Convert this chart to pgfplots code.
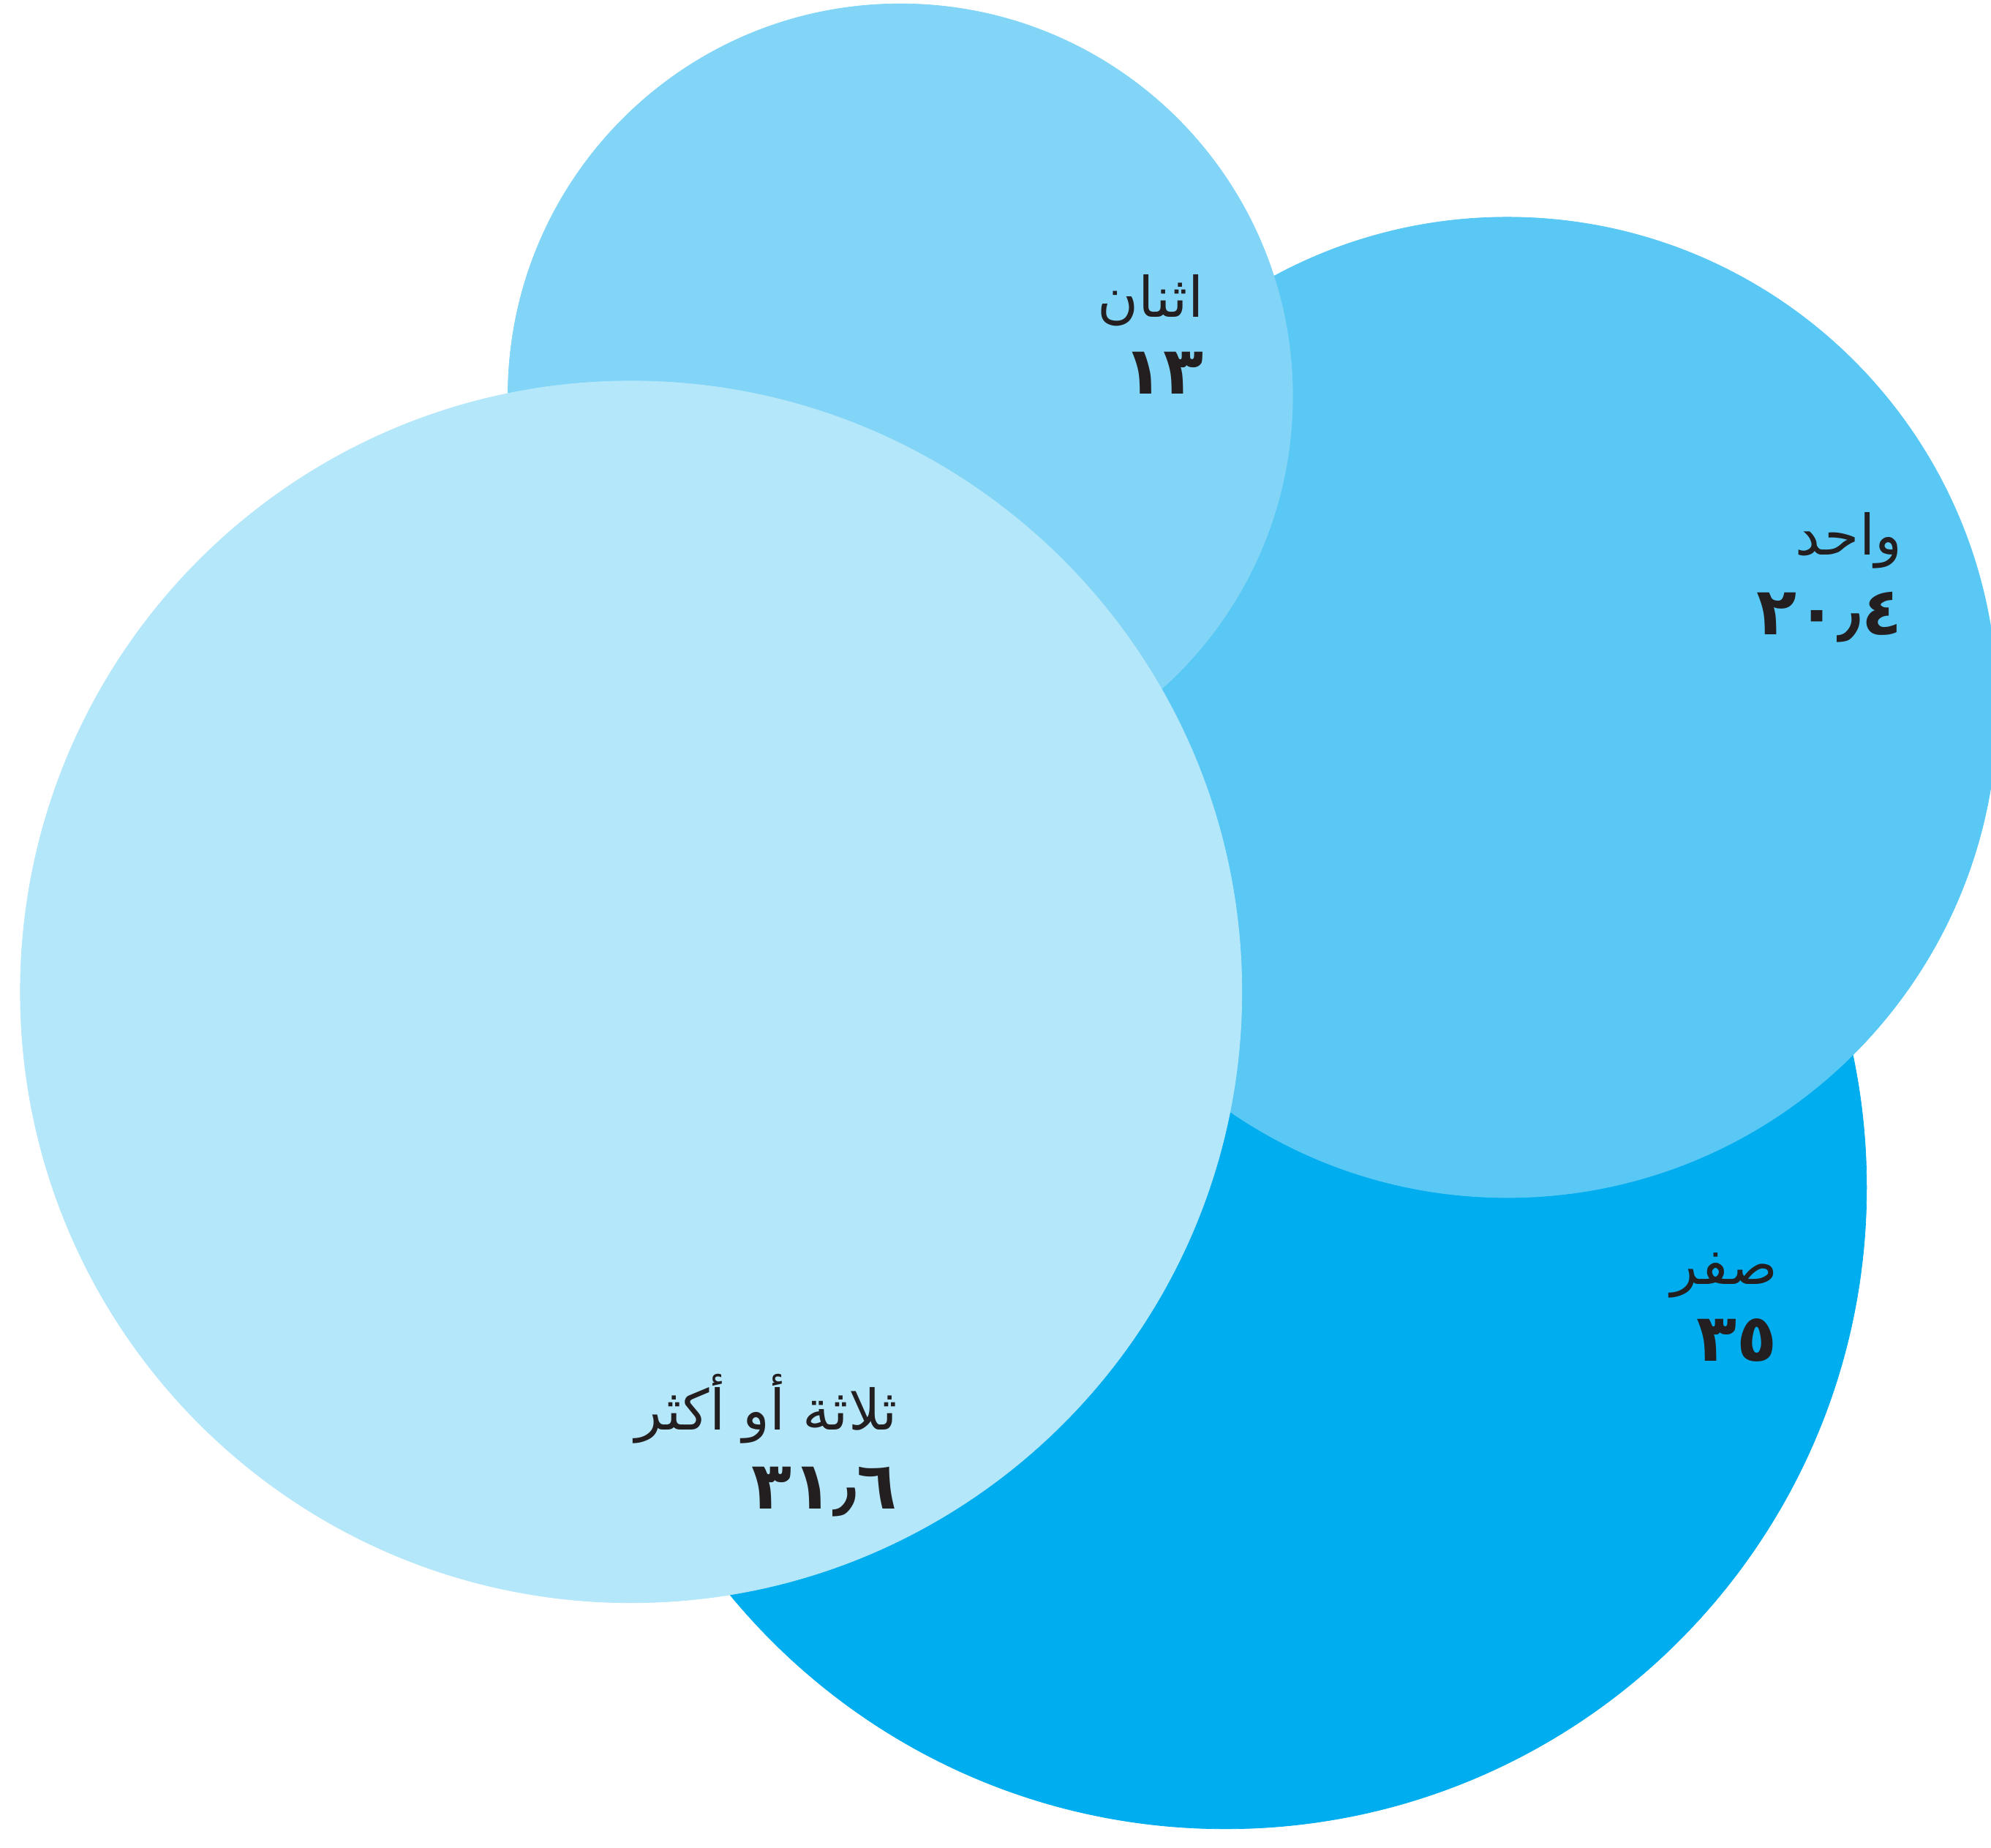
\documentclass[border=0pt]{standalone}
\usepackage{pgfplots}
\pgfplotsset{compat=1.18}
\usepackage{fontspec}
\setmainfont{DejaVu Sans}
\newfontfamily\arabicfont[Script=Arabic]{DejaVu Sans}
\TeXXeTstate=1
\definecolor{czero}{HTML}{00ADEE}
\definecolor{cone}{HTML}{5AC8F5}
\definecolor{ctwo}{HTML}{82D5F7}
\definecolor{cthree}{HTML}{B4E7FA}
\definecolor{txt}{HTML}{231F20}
\begin{document}
\begin{tikzpicture}
\begin{axis}[
  scale only axis, width=1568pt, height=1455pt,
  xmin=0, xmax=1568, ymin=0, ymax=1455,
  axis line style={draw=none}, ticks=none,
  clip=true, clip marker paths=true,
]
% radius proportional to sqrt(value): r = 85.5*sqrt(v)
\addplot[only marks, mark=*, mark size=505, color=czero, mark options={draw=none, fill=czero}] coordinates {(965,520)};
\addplot[only marks, mark=*, mark size=386, color=cone, mark options={draw=none, fill=cone}] coordinates {(1187,898)};
\addplot[only marks, mark=*, mark size=309, color=ctwo, mark options={draw=none, fill=ctwo}] coordinates {(709,1143)};
\addplot[only marks, mark=*, mark size=481, color=cthree, mark options={draw=none, fill=cthree}] coordinates {(497,674)};

\coordinate (l2) at (axis cs:948,1205);
\coordinate (n2) at (axis cs:948,1145);
\coordinate (l1) at (axis cs:1498,1018);
\coordinate (n1) at (axis cs:1498,955);
\coordinate (l0) at (axis cs:1400,444);
\coordinate (n0) at (axis cs:1400,383);
\coordinate (l3) at (axis cs:707,329);
\coordinate (n3) at (axis cs:707,267);
\end{axis}
\begin{scope}[every node/.style={anchor=base east, text=txt, inner sep=0pt}]
\node at (l2) {\arabicfont\fontsize{44}{50}\selectfont\beginR اثنان\endR};
\node at (n2) {\arabicfont\bfseries\fontsize{52}{60}\selectfont ١٣};
\node at (l1) {\arabicfont\fontsize{44}{50}\selectfont\beginR واحد\endR};
\node at (n1) {\arabicfont\bfseries\fontsize{52}{60}\selectfont ٢٠٫٤};
\node at (l0) {\arabicfont\fontsize{44}{50}\selectfont\beginR صفر\endR};
\node at (n0) {\arabicfont\bfseries\fontsize{52}{60}\selectfont ٣٥};
\node at (l3) {\arabicfont\fontsize{44}{50}\selectfont\beginR ثلاثة أو أكثر\endR};
\node at (n3) {\arabicfont\bfseries\fontsize{52}{60}\selectfont ٣١٫٦};
\end{scope}
\pgfresetboundingbox
\path[use as bounding box] (current axis.south west) rectangle (current axis.north east);
\end{tikzpicture}
\end{document}
